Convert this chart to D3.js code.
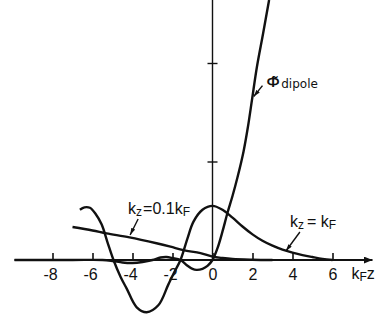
<!DOCTYPE html>
<html>
<head>
<meta charset="utf-8">
<script src="https://cdn.jsdelivr.net/npm/d3@7"></script>
<style>
  html, body { margin: 0; padding: 0; background: #fff; }
  svg { display: block; }
  text { font-family: "Liberation Sans", "DejaVu Sans", sans-serif; fill: #111; }
</style>
</head>
<body>
<div id="chart"></div>
<script>
// tick labels of the k_F z axis
const kTicks = [-8, -6, -4, -2, 0, 2, 4, 6];
const yTicks = [1, 2];

// Phi~ dipole
const phiK = [-9.9, -7, -5.5, -5, -4.5, -4, -3.5, -3, -2.6, -2.3, -2, -1.6, -1.3, -1, -0.8, -0.5, -0.25, 0, 0.25, 0.5, 0.75, 1, 1.25, 1.55, 1.77, 1.97, 2.22, 2.53, 2.83];
const phiV = [0, 0, 0, -0.01, -0.025, -0.03, -0.02, 0, 0.025, 0.03, 0.02, 0, -0.05, -0.09, -0.1, -0.09, -0.06, 0, 0.12, 0.29, 0.48, 0.65, 0.84, 1.1, 1.35, 1.62, 1.96, 2.3, 2.64];

// k_z = k_F
const kfK = [-6.63, -6.4, -6.13, -5.85, -5.54, -5.25, -4.95, -4.6, -4.29, -3.79, -3.29, -2.71, -2.21, -1.9, -1.6, -1.25, -0.95, -0.5, 0, 0.5, 1, 1.5, 2, 2.5, 3, 3.5, 4, 4.5, 5, 5.5, 6];
const kfV = [0.51, 0.535, 0.53, 0.47, 0.36, 0.18, 0, -0.17, -0.29, -0.48, -0.53, -0.46, -0.25, -0.12, 0, 0.22, 0.39, 0.51, 0.55, 0.51, 0.43, 0.34, 0.26, 0.195, 0.145, 0.105, 0.075, 0.05, 0.03, 0.012, 0];

// k_z = 0.1 k_F
const k01K = [-7, -6, -5.3, -4.15, -2.8, -2.1, -1.45, -0.6, 0, 0.5, 1, 2, 3];
const k01V = [0.335, 0.3, 0.27, 0.23, 0.17, 0.135, 0.1, 0.07, 0.035, 0.02, 0.01, 0.003, 0];

const W = 375, H = 320;

const svg = d3.select("#chart").append("svg")
  .attr("width", W).attr("height", H)
  .attr("viewBox", `0 0 ${W} ${H}`);

const x = d3.scaleLinear().domain([-9.9, 8]).range([14.5, 372.5]);
const y = d3.scaleLinear().domain([0, 2]).range([260, 63]);

// arrow heads
const defs = svg.append("defs");
defs.append("marker")
  .attr("id", "axisHead")
  .attr("viewBox", "0 0 10 8")
  .attr("refX", 10).attr("refY", 4)
  .attr("markerUnits", "userSpaceOnUse")
  .attr("markerWidth", 9).attr("markerHeight", 7)
  .attr("orient", "auto")
  .append("path").attr("d", "M0,0L10,4L0,8Z").attr("fill", "#111");
defs.append("marker")
  .attr("id", "noteHead")
  .attr("viewBox", "0 0 10 6")
  .attr("refX", 10).attr("refY", 3)
  .attr("markerUnits", "userSpaceOnUse")
  .attr("markerWidth", 7).attr("markerHeight", 4.5)
  .attr("orient", "auto")
  .append("path").attr("d", "M0,0L10,3L0,6Z").attr("fill", "#111");

// horizontal axis
const xAxis = d3.axisBottom(x)
  .tickValues(kTicks)
  .tickSize(-7)
  .tickSizeOuter(0)
  .tickPadding(9)
  .tickFormat(d => d < 0 ? "-" + Math.abs(d) : String(d));

const gx = svg.append("g")
  .attr("transform", `translate(0,${y(0)})`)
  .call(xAxis);
gx.select(".domain").remove();
gx.selectAll(".tick line").attr("stroke", "#111").attr("stroke-width", 1.6);
gx.selectAll(".tick text")
  .attr("fill", "#111")
  .style("font-size", "16px")
  .attr("dx", d => d < 0 ? -2.5 : 0);

svg.append("line")
  .attr("x1", x.range()[0]).attr("x2", x.range()[1])
  .attr("y1", y(0)).attr("y2", y(0))
  .attr("stroke", "#111").attr("stroke-width", 2)
  .attr("marker-end", "url(#axisHead)");

// vertical axis
const yAxis = d3.axisLeft(y).tickValues(yTicks).tickSize(5).tickFormat("");
const gy = svg.append("g").attr("transform", `translate(${x(0)},0)`).call(yAxis);
gy.select(".domain").remove();
gy.selectAll(".tick line").attr("x1", 5).attr("x2", -5).attr("stroke", "#111").attr("stroke-width", 1.4);

svg.append("line")
  .attr("x1", x(0)).attr("x2", x(0))
  .attr("y1", y(0)).attr("y2", 0)
  .attr("stroke", "#111").attr("stroke-width", 1.4);

// curves
const line = d3.line()
  .x(d => x(d[0]))
  .y(d => y(d[1]))
  .curve(d3.curveCatmullRom.alpha(0.5));

const series = [
  d3.zip(phiK, phiV),
  d3.zip(kfK, kfV),
  d3.zip(k01K, k01V),
];

svg.append("g").selectAll("path")
  .data(series)
  .join("path")
  .attr("d", line)
  .attr("fill", "none")
  .attr("stroke", "#111")
  .attr("stroke-width", 2.4)
  .attr("stroke-linejoin", "round");

// annotations, in data units: text anchor, arrow start, arrow end
const notes = [
  { at: [2.7, 1.756], from: [2.5, 1.77], to: [2.06, 1.66] },
  { at: [-4.22, 0.467], from: [-3.72, 0.416], to: [-4.12, 0.254] },
  { at: [3.87, 0.335], from: [4.37, 0.284], to: [3.67, 0.091] },
];

svg.append("g").selectAll("line")
  .data(notes)
  .join("line")
  .attr("x1", d => x(d.from[0])).attr("y1", d => y(d.from[1]))
  .attr("x2", d => x(d.to[0])).attr("y2", d => y(d.to[1]))
  .attr("stroke", "#111").attr("stroke-width", 1.4)
  .attr("marker-end", "url(#noteHead)");

// Phi~ dipole label (combining tilde over the Phi)
const t0 = svg.append("text")
  .attr("x", x(notes[0].at[0])).attr("y", y(notes[0].at[1]));
t0.append("tspan").text("\u03A6\u0303")
  .style("font-family", "Noto Sans").style("font-size", "15px").style("font-weight", 600);
t0.append("tspan").text("dipole")
  .style("font-family", "DejaVu Sans").style("font-size", "12px").attr("dx", 1.5).attr("dy", 1);

// k_z = 0.1 k_F
const t1 = svg.append("text")
  .attr("x", x(notes[1].at[0])).attr("y", y(notes[1].at[1]))
  .style("font-size", "16px");
t1.append("tspan").text("k");
t1.append("tspan").text("z").style("font-size", "12px").attr("dy", 2);
t1.append("tspan").text("=0.1k").attr("dy", -2).attr("dx", 1);
t1.append("tspan").text("F").style("font-size", "12px").attr("dy", 2);

// k_z = k_F
const t2 = svg.append("text")
  .attr("x", x(notes[2].at[0])).attr("y", y(notes[2].at[1]))
  .style("font-size", "16px");
t2.append("tspan").text("k");
t2.append("tspan").text("z").style("font-size", "12px").attr("dy", 2);
t2.append("tspan").text("= k").attr("dy", -2).attr("dx", 3);
t2.append("tspan").text("F").style("font-size", "12px").attr("dy", 2);

// axis title k_F z
const t3 = svg.append("text")
  .attr("x", x(6.95)).attr("y", y(0) + 19)
  .style("font-size", "16px");
t3.append("tspan").text("k");
t3.append("tspan").text("F").style("font-size", "12px").attr("dy", 2);
t3.append("tspan").text("z").attr("dy", -2);
</script>
</body>
</html>
